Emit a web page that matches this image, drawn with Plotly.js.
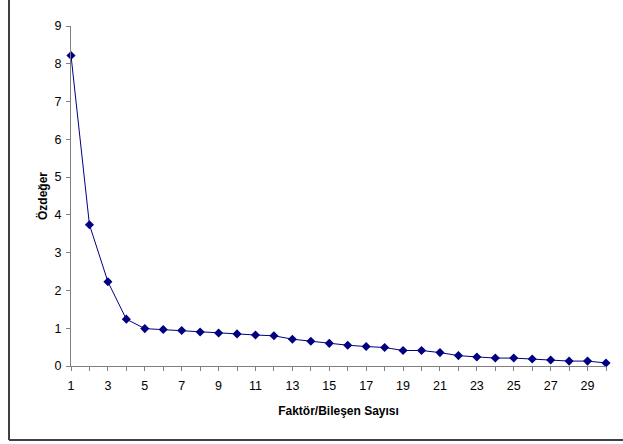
<!DOCTYPE html>
<html>
<head>
<meta charset="utf-8">
<script src="https://cdn.plot.ly/plotly-3.0.1.min.js"></script>
<style>html,body{margin:0;padding:0;background:#fff;}#chart{width:623px;height:444px;}</style>
</head>
<body>
<div id="chart"></div>
<script>
var factors = [1,2,3,4,5,6,7,8,9,10,11,12,13,14,15,16,17,18,19,20,21,22,23,24,25,26,27,28,29,30];
var eigenvalues = [8.22,3.74,2.23,1.24,0.99,0.965,0.94,0.90,0.875,0.85,0.82,0.80,0.71,0.655,0.60,0.55,0.515,0.49,0.41,0.41,0.355,0.275,0.24,0.21,0.21,0.185,0.16,0.13,0.13,0.08];
var xTickLabels = ['1','','3','','5','','7','','9','','11','','13','','15','','17','','19','','21','','23','','25','','27','','29',''];
var yTickValues = [0,1,2,3,4,5,6,7,8,9];
var xTitle = 'Faktör/Bileşen Sayısı';
var yTitle = 'Özdeğer';

var trace = {
  x: factors,
  y: eigenvalues,
  type: 'scatter',
  mode: 'lines+markers',
  cliponaxis: false,
  line: {color: '#000080', width: 1},
  marker: {symbol: 'diamond', size: 7, color: '#000080'},
  hoverinfo: 'none'
};

var layout = {
  width: 623,
  height: 444,
  margin: {l: 71, r: 17, t: 26, b: 78},
  paper_bgcolor: '#ffffff',
  plot_bgcolor: '#ffffff',
  showlegend: false,
  font: {family: 'Liberation Sans, Arial, sans-serif', size: 12.5, color: '#000'},
  xaxis: {
    range: [1, 30],
    tickmode: 'array',
    tickvals: factors,
    ticktext: xTickLabels,
    ticks: 'outside',
    ticklen: 4,
    tickcolor: '#808080',
    showline: true,
    linecolor: '#808080',
    linewidth: 1,
    showgrid: false,
    zeroline: false,
    ticklabelstandoff: 4,
    tickfont: {size: 12.5, color: '#000'},
    title: {text: xTitle, font: {size: 12, color: '#000', weight: 'bold'}, standoff: 14}
  },
  yaxis: {
    range: [0, 9],
    tickmode: 'array',
    tickvals: yTickValues,
    ticks: 'outside',
    ticklen: 4,
    tickcolor: '#808080',
    showline: true,
    linecolor: '#808080',
    linewidth: 1,
    showgrid: false,
    zeroline: false,
    ticklabelstandoff: 2,
    tickfont: {size: 12.5, color: '#000'}
  },
  annotations: [
    {text: yTitle, xref: 'paper', yref: 'paper', x: (42-71)/535, y: 0.5, xanchor: 'center', yanchor: 'middle',
     textangle: -90, showarrow: false, font: {size: 12, color: '#000', weight: 'bold'}}
  ],
  shapes: [
    {type: 'line', xref: 'paper', yref: 'paper', x0: (9-71)/535, x1: (9-71)/535, y0: (366-440)/340, y1: 1.2, line: {color: '#404040', width: 2}},
    {type: 'line', xref: 'paper', yref: 'paper', x0: (9-71)/535, x1: 1.1, y0: (366-440)/340, y1: (366-440)/340, line: {color: '#404040', width: 2}}
  ]
};

Plotly.newPlot('chart', [trace], layout, {staticPlot: true, displayModeBar: false});
</script>
</body>
</html>
